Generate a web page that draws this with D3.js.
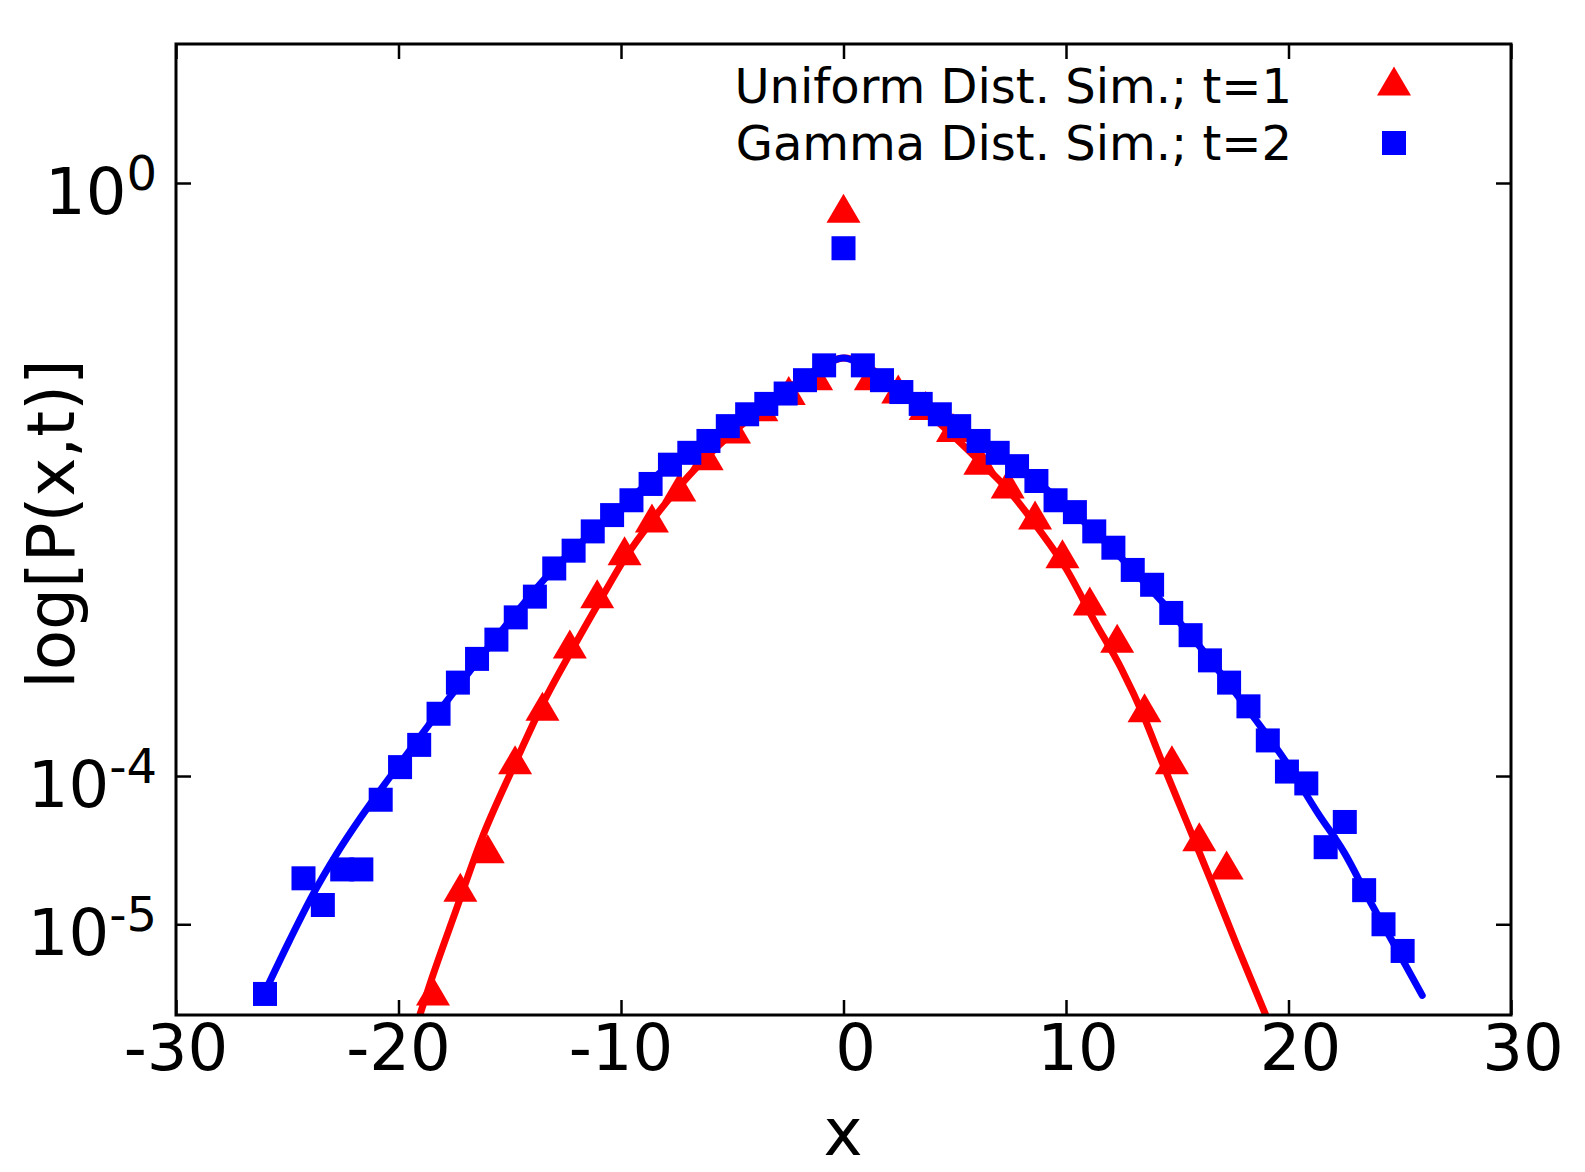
<!DOCTYPE html>
<html>
<head>
<meta charset="utf-8">
<script src="https://cdn.jsdelivr.net/npm/d3@7"></script>
<style>
  body { margin: 0; background: #fff; }
  svg { display: block; font-family: "DejaVu Sans", sans-serif; }
</style>
</head>
<body>
<svg id="chart" width="1585" height="1172"></svg>
<script>
// simulation markers (log10 of P)
const uniformX = [-18.45, -17.22, -15.99, -14.76, -13.53, -12.30, -11.07, -9.84, -8.61, -7.38, -6.15, -4.92, -3.69, -2.46, -1.23,
  0, 1.23, 2.46, 3.69, 4.92, 6.15, 7.38, 8.61, 9.84, 11.07, 12.30, 13.53, 14.76, 15.99, 17.22];
const uniformLogP = [-5.45, -4.75, -4.49, -3.89, -3.53, -3.11, -2.77, -2.48, -2.26, -2.05, -1.84, -1.66, -1.51, -1.40, -1.30,
  -0.17, -1.30, -1.39, -1.50, -1.65, -1.87, -2.03, -2.24, -2.50, -2.82, -3.07, -3.54, -3.89, -4.41, -4.60];

const gammaX = [-26.00, -24.27, -23.40, -22.53, -21.67, -20.80, -19.93, -19.07, -18.20, -17.33, -16.47, -15.60, -14.73, -13.87,
  -13.00, -12.13, -11.27, -10.40, -9.53, -8.67, -7.80, -6.93, -6.07, -5.20, -4.33, -3.47, -2.60, -1.73, -0.87,
  0, 0.87, 1.73, 2.60, 3.47, 4.33, 5.20, 6.07, 6.93, 7.80, 8.67, 9.53, 10.40, 11.27, 12.13, 13.00, 13.87, 14.73,
  15.60, 16.47, 17.33, 18.20, 19.07, 19.93, 20.80, 21.67, 22.53, 23.40, 24.27, 25.13];
const gammaLogP = [-5.47, -4.69, -4.87, -4.63, -4.63, -4.16, -3.94, -3.79, -3.58, -3.37, -3.21, -3.08, -2.93, -2.79,
  -2.60, -2.48, -2.35, -2.24, -2.14, -2.03, -1.90, -1.82, -1.74, -1.64, -1.56, -1.49, -1.42, -1.33, -1.23,
  -0.44, -1.23, -1.33, -1.41, -1.49, -1.56, -1.64, -1.74, -1.82, -1.91, -2.01, -2.14, -2.22, -2.35, -2.46, -2.61, -2.71, -2.90,
  -3.05, -3.22, -3.37, -3.53, -3.76, -3.97, -4.05, -4.48, -4.31, -4.77, -5.00, -5.18];

// theory curves
const uniformCurveX = [-19.06, -18.49, -17.45, -16.25, -14.84, -13.44, -12.13, -11.03, -9.82, -8.42, -7.22, -6.02, -4.40, -2.61, -1.21,
  0, 2.0, 4.0, 6.0, 7.4, 8.7, 10.0, 11.3, 12.5, 13.5, 14.3, 15.4, 16.5, 17.7, 18.97];
const uniformCurveLogP = [-5.62, -5.36, -4.92, -4.42, -3.94, -3.49, -3.13, -2.84, -2.53, -2.24, -2.02, -1.83, -1.61, -1.40, -1.26,
  -1.18, -1.33, -1.58, -1.86, -2.07, -2.32, -2.60, -2.96, -3.28, -3.60, -3.90, -4.30, -4.70, -5.15, -5.61];

const gammaCurveX = [-26.05, -24.90, -23.85, -22.80, -21.70, -20.40, -19.51, -18.61, -16.0, -13.0, -10.4, -7.8, -5.2, -2.6, -0.9,
  0, 0.9, 2.6, 5.2, 7.8, 10.4, 13.0, 15.6, 18.32, 19.82, 21.32, 22.52, 23.72, 24.91, 26.01];
const gammaCurveLogP = [-5.47, -5.11, -4.80, -4.53, -4.28, -4.01, -3.83, -3.65, -3.14, -2.60, -2.24, -1.90, -1.64, -1.41, -1.23,
  -1.18, -1.23, -1.41, -1.64, -1.91, -2.23, -2.61, -3.05, -3.58, -3.89, -4.25, -4.52, -4.86, -5.18, -5.48];

const xTicks = [-30, -20, -10, 0, 10, 20, 30];
const yTickExponents = [0, -4, -5];
const legendLabels = ["Uniform Dist. Sim.; t=1", "Gamma Dist. Sim.; t=2"];

const svg = d3.select("#chart");
const plotLeft = 176, plotRight = 1511, plotTop = 44, plotBottom = 1015;
const tickLen = 15;

const xScale = d3.scaleLinear().domain([-30, 30]).range([plotLeft, plotRight]);
const yScale = d3.scaleLog().domain([Math.pow(10, -5.612), Math.pow(10, 0.9376)]).range([plotBottom, plotTop]);

const toPoints = (xs, ls) => xs.map((x, i) => ({ x: x, p: Math.pow(10, ls[i]) }));

svg.append("defs").append("clipPath").attr("id", "plotClip")
  .append("rect").attr("x", plotLeft).attr("y", plotTop)
  .attr("width", plotRight - plotLeft).attr("height", plotBottom - plotTop);

// ticks on all four sides, pointing inward
const tickStyle = (g) => {
  g.select(".domain").remove();
  g.selectAll(".tick line").attr("stroke", "#000").attr("stroke-width", 2.5);
  g.selectAll(".tick text").remove();
};
svg.append("g").attr("transform", `translate(0,${plotBottom})`)
  .call(d3.axisBottom(xScale).tickValues(xTicks).tickSizeInner(-tickLen).tickSizeOuter(0)).call(tickStyle);
svg.append("g").attr("transform", `translate(0,${plotTop})`)
  .call(d3.axisTop(xScale).tickValues(xTicks).tickSizeInner(-tickLen).tickSizeOuter(0)).call(tickStyle);
const yTickValues = yTickExponents.map((e) => Math.pow(10, e));
svg.append("g").attr("transform", `translate(${plotLeft},0)`)
  .call(d3.axisLeft(yScale).tickValues(yTickValues).tickSizeInner(-tickLen).tickSizeOuter(0)).call(tickStyle);
svg.append("g").attr("transform", `translate(${plotRight},0)`)
  .call(d3.axisRight(yScale).tickValues(yTickValues).tickSizeInner(-tickLen).tickSizeOuter(0)).call(tickStyle);

// x tick labels
svg.append("g").selectAll("text").data(xTicks).enter().append("text")
  .attr("x", (d) => xScale(d) + (d >= 0 ? 12 : 0))
  .attr("y", 1070)
  .attr("text-anchor", "middle")
  .attr("font-size", 64)
  .text((d) => d);

// y tick labels 10^n
const yLabels = svg.append("g").selectAll("text").data(yTickExponents).enter().append("text")
  .attr("x", 157)
  .attr("y", (d) => yScale(Math.pow(10, d)) + 31)
  .attr("text-anchor", "end")
  .attr("font-size", 64);
yLabels.append("tspan").text("10");
yLabels.append("tspan").attr("font-size", 48).attr("dy", -24).text((d) => d);

// axis titles
svg.append("text").attr("x", 843).attr("y", 1155).attr("text-anchor", "middle")
  .attr("font-size", 66).text("x");
svg.append("text").attr("transform", "translate(74,524) rotate(-90)").attr("text-anchor", "middle")
  .attr("font-size", 66).text("log[P(x,t)]");

const plot = svg.append("g").attr("clip-path", "url(#plotClip)");
const line = d3.line().x((d) => xScale(d.x)).y((d) => yScale(d.p)).curve(d3.curveMonotoneX);

const triPath = "M0,-14.5L17,14.5L-17,14.5Z";

// uniform: red
plot.append("path").datum(toPoints(uniformCurveX, uniformCurveLogP))
  .attr("d", line).attr("fill", "none").attr("stroke", "#ff0000").attr("stroke-width", 7)
  .attr("stroke-linecap", "round").attr("stroke-linejoin", "round");
plot.append("g").selectAll("path").data(toPoints(uniformX, uniformLogP)).enter().append("path")
  .attr("d", triPath)
  .attr("transform", (d) => `translate(${xScale(d.x)},${yScale(d.p)})`)
  .attr("fill", "#ff0000");

// gamma: blue
plot.append("path").datum(toPoints(gammaCurveX, gammaCurveLogP))
  .attr("d", line).attr("fill", "none").attr("stroke", "#0000ff").attr("stroke-width", 7)
  .attr("stroke-linecap", "round").attr("stroke-linejoin", "round");
plot.append("g").selectAll("rect").data(toPoints(gammaX, gammaLogP)).enter().append("rect")
  .attr("x", (d) => xScale(d.x) - 12)
  .attr("y", (d) => yScale(d.p) - 12)
  .attr("width", 24).attr("height", 24)
  .attr("fill", "#0000ff");

// frame
svg.append("rect").attr("x", plotLeft).attr("y", plotTop)
  .attr("width", plotRight - plotLeft).attr("height", plotBottom - plotTop)
  .attr("fill", "none").attr("stroke", "#000").attr("stroke-width", 3);

// legend
const legend = svg.append("g").attr("class", "legend");
legend.selectAll("text").data(legendLabels).enter().append("text")
  .attr("x", 1292).attr("y", (d, i) => 103 + i * 57)
  .attr("text-anchor", "end").attr("font-size", 48).text((d) => d);
legend.append("path").attr("d", triPath).attr("transform", "translate(1394,81)").attr("fill", "#ff0000");
legend.append("rect").attr("x", 1382).attr("y", 131).attr("width", 24).attr("height", 24).attr("fill", "#0000ff");
</script>
</body>
</html>
